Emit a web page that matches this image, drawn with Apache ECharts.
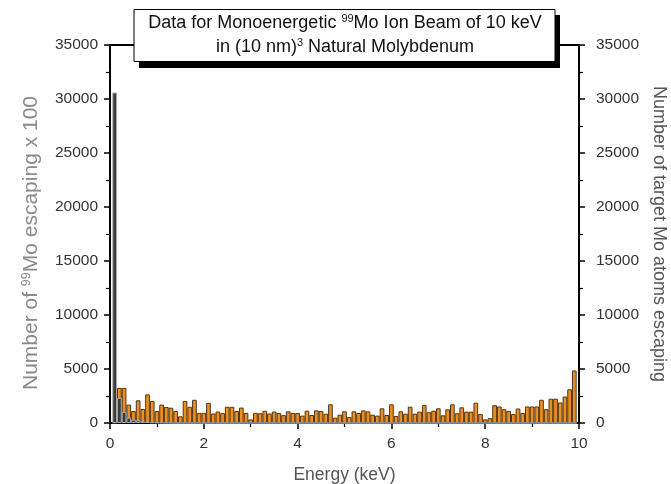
<!DOCTYPE html>
<html><head><meta charset="utf-8">
<script src="https://cdn.jsdelivr.net/npm/echarts@6/dist/echarts.min.js"></script>
<style>html,body{margin:0;padding:0;background:#fff}#c{width:671px;height:484px}</style>
</head><body><div id="c"></div>
<script>
// Energy bin centres (keV)
const energies = [0.1,0.2,0.3,0.4,0.5,0.6,0.7,0.8,0.9,1.0,
 1.1,1.2,1.3,1.4,1.5,1.6,1.7,1.8,1.9,2.0,
 2.1,2.2,2.3,2.4,2.5,2.6,2.7,2.8,2.9,3.0,
 3.1,3.2,3.3,3.4,3.5,3.6,3.7,3.8,3.9,4.0,
 4.1,4.2,4.3,4.4,4.5,4.6,4.7,4.8,4.9,5.0,
 5.1,5.2,5.3,5.4,5.5,5.6,5.7,5.8,5.9,6.0,
 6.1,6.2,6.3,6.4,6.5,6.6,6.7,6.8,6.9,7.0,
 7.1,7.2,7.3,7.4,7.5,7.6,7.7,7.8,7.9,8.0,
 8.1,8.2,8.3,8.4,8.5,8.6,8.7,8.8,8.9,9.0,
 9.1,9.2,9.3,9.4,9.5,9.6,9.7,9.8,9.9];
// Number of target Mo atoms escaping (orange)
const targetMo = [0,3250,3250,1700,1110,2100,1300,2650,2040,1110,
 1700,1480,1420,1110,620,2040,1500,2150,940,940,
 1870,880,1060,910,1500,1500,1110,1430,930,330,
 940,900,1130,880,1060,930,730,1080,930,930,
 680,1140,740,1170,1110,860,1730,490,770,1080,
 560,1080,930,1170,1080,770,680,1360,740,1730,
 650,1080,860,1510,860,1050,1670,1000,1140,1360,
 710,1270,1730,900,1450,1050,1050,1880,830,330,
 450,1650,1530,1280,1120,830,1340,930,1530,1530,
 1530,2150,1280,2250,2250,1900,2450,3120,4860];
// Number of 99Mo escaping x 100 (dark grey)
const mo99 = [30600,2320,1030,500,310,240,150,90,60,40,
 30,20,10,0,0,0,0,0,0,0,
 0,0,0,0,0,0,0,0,0,0,
 0,0,0,0,0,0,0,0,0,0,
 0,0,0,0,0,0,0,0,0,0,
 0,0,0,0,0,0,0,0,0,0,
 0,0,0,0,0,0,0,0,0,0,
 0,0,0,0,0,0,0,0,0,0,
 0,0,0,0,0,0,0,0,0,0,
 0,0,0,0,0,0,0,0,0];
const xTicks = [0,2,4,6,8,10];
const yTicks = [0,5000,10000,15000,20000,25000,30000,35000];

const chart = echarts.init(document.getElementById('c'), null, {renderer:'canvas'});
const FONT = 'Liberation Sans, Arial, sans-serif';
const plain = v => String(v);
const axisCommon = {
  axisLine:{show:true, onZero:false, lineStyle:{color:'#000', width:2}},
  axisTick:{show:true, inside:false, length:6, lineStyle:{color:'#000', width:1.5}},
  minorTick:{show:true, splitNumber:2, length:4, lineStyle:{color:'#000', width:1.2}},
  splitLine:{show:false}
};
const yBase = Object.assign({}, axisCommon, {
  type:'value', min:yTicks[0], max:yTicks[yTicks.length-1], interval:5000,
  nameLocation:'middle'
});
chart.setOption({
  animation:false,
  backgroundColor:'#fff',
  grid:{left:110, right:92, top:45, bottom:61, show:true, borderColor:'#000', borderWidth:2,
        containLabel:false, outerBoundsMode:'none'},
  xAxis:[Object.assign({}, axisCommon, {
    type:'value', min:xTicks[0], max:xTicks[xTicks.length-1], interval:2,
    axisLabel:{fontSize:15.5, color:'#333', margin:13, fontFamily:FONT, formatter:plain},
    name:'Energy (keV)', nameLocation:'middle', nameGap:43,
    nameTextStyle:{fontSize:17.5, color:'#555', fontFamily:FONT}
  })],
  yAxis:[Object.assign({}, yBase, {
    position:'left',
    axisLabel:{fontSize:15.5, color:'#333', margin:12, fontFamily:FONT, formatter:plain},
    name:'Number of {sup|99}Mo escaping x 100', nameRotate:90, nameGap:67,
    nameTextStyle:{fontSize:21, color:'#8a8a8a', fontFamily:FONT, padding:[0,18,0,0],
      rich:{sup:{fontSize:12.5, color:'#8a8a8a', verticalAlign:'top', padding:[0,0,10,0], fontFamily:FONT}}}
  }), Object.assign({}, yBase, {
    position:'right',
    axisLabel:{fontSize:15.5, color:'#333', margin:17, fontFamily:FONT, formatter:plain},
    name:'Number of target Mo atoms escaping', nameRotate:-90, nameGap:69,
    nameTextStyle:{fontSize:18, color:'#555', fontFamily:FONT}
  })],
  series:[{
    type:'bar', name:'target', xAxisIndex:0, yAxisIndex:0,
    data: energies.map((e,i)=>[e, targetMo[i]]),
    barWidth:4.7, barGap:'-100%',
    itemStyle:{color:'#ff8c00', borderColor:'#3a3a3a', borderWidth:1},
    z:2
  },{
    type:'bar', name:'mo99', xAxisIndex:0, yAxisIndex:0,
    data: energies.map((e,i)=>[e, mo99[i]]),
    barWidth:4.7, barGap:'-100%',
    itemStyle:{color:'#3c3c3c', borderColor:'#a8a8a8', borderWidth:1},
    z:3
  }],
  graphic:[
    {type:'rect', shape:{x:139, y:15, width:421, height:53}, style:{fill:'#000'}, z:100},
    {type:'rect', shape:{x:134, y:9.5, width:421, height:52}, style:{fill:'#fff', stroke:'#000', lineWidth:1}, z:101},
    {type:'text', x:345, y:23, z:102, style:{
      text:'Data for Monoenergetic {sup|99}Mo Ion Beam of 10 keV',
      font:'18px ' + FONT, fill:'#111', align:'center', verticalAlign:'middle',
      rich:{sup:{fontSize:11, fill:'#111', verticalAlign:'top', padding:[0,0,9,0], fontFamily:FONT}}
    }},
    {type:'text', x:345, y:47, z:102, style:{
      text:'in (10 nm){sup|3} Natural Molybdenum',
      font:'18px ' + FONT, fill:'#111', align:'center', verticalAlign:'middle',
      rich:{sup:{fontSize:11, fill:'#111', verticalAlign:'top', padding:[0,0,9,0], fontFamily:FONT}}
    }}
  ]
});
</script></body></html>
